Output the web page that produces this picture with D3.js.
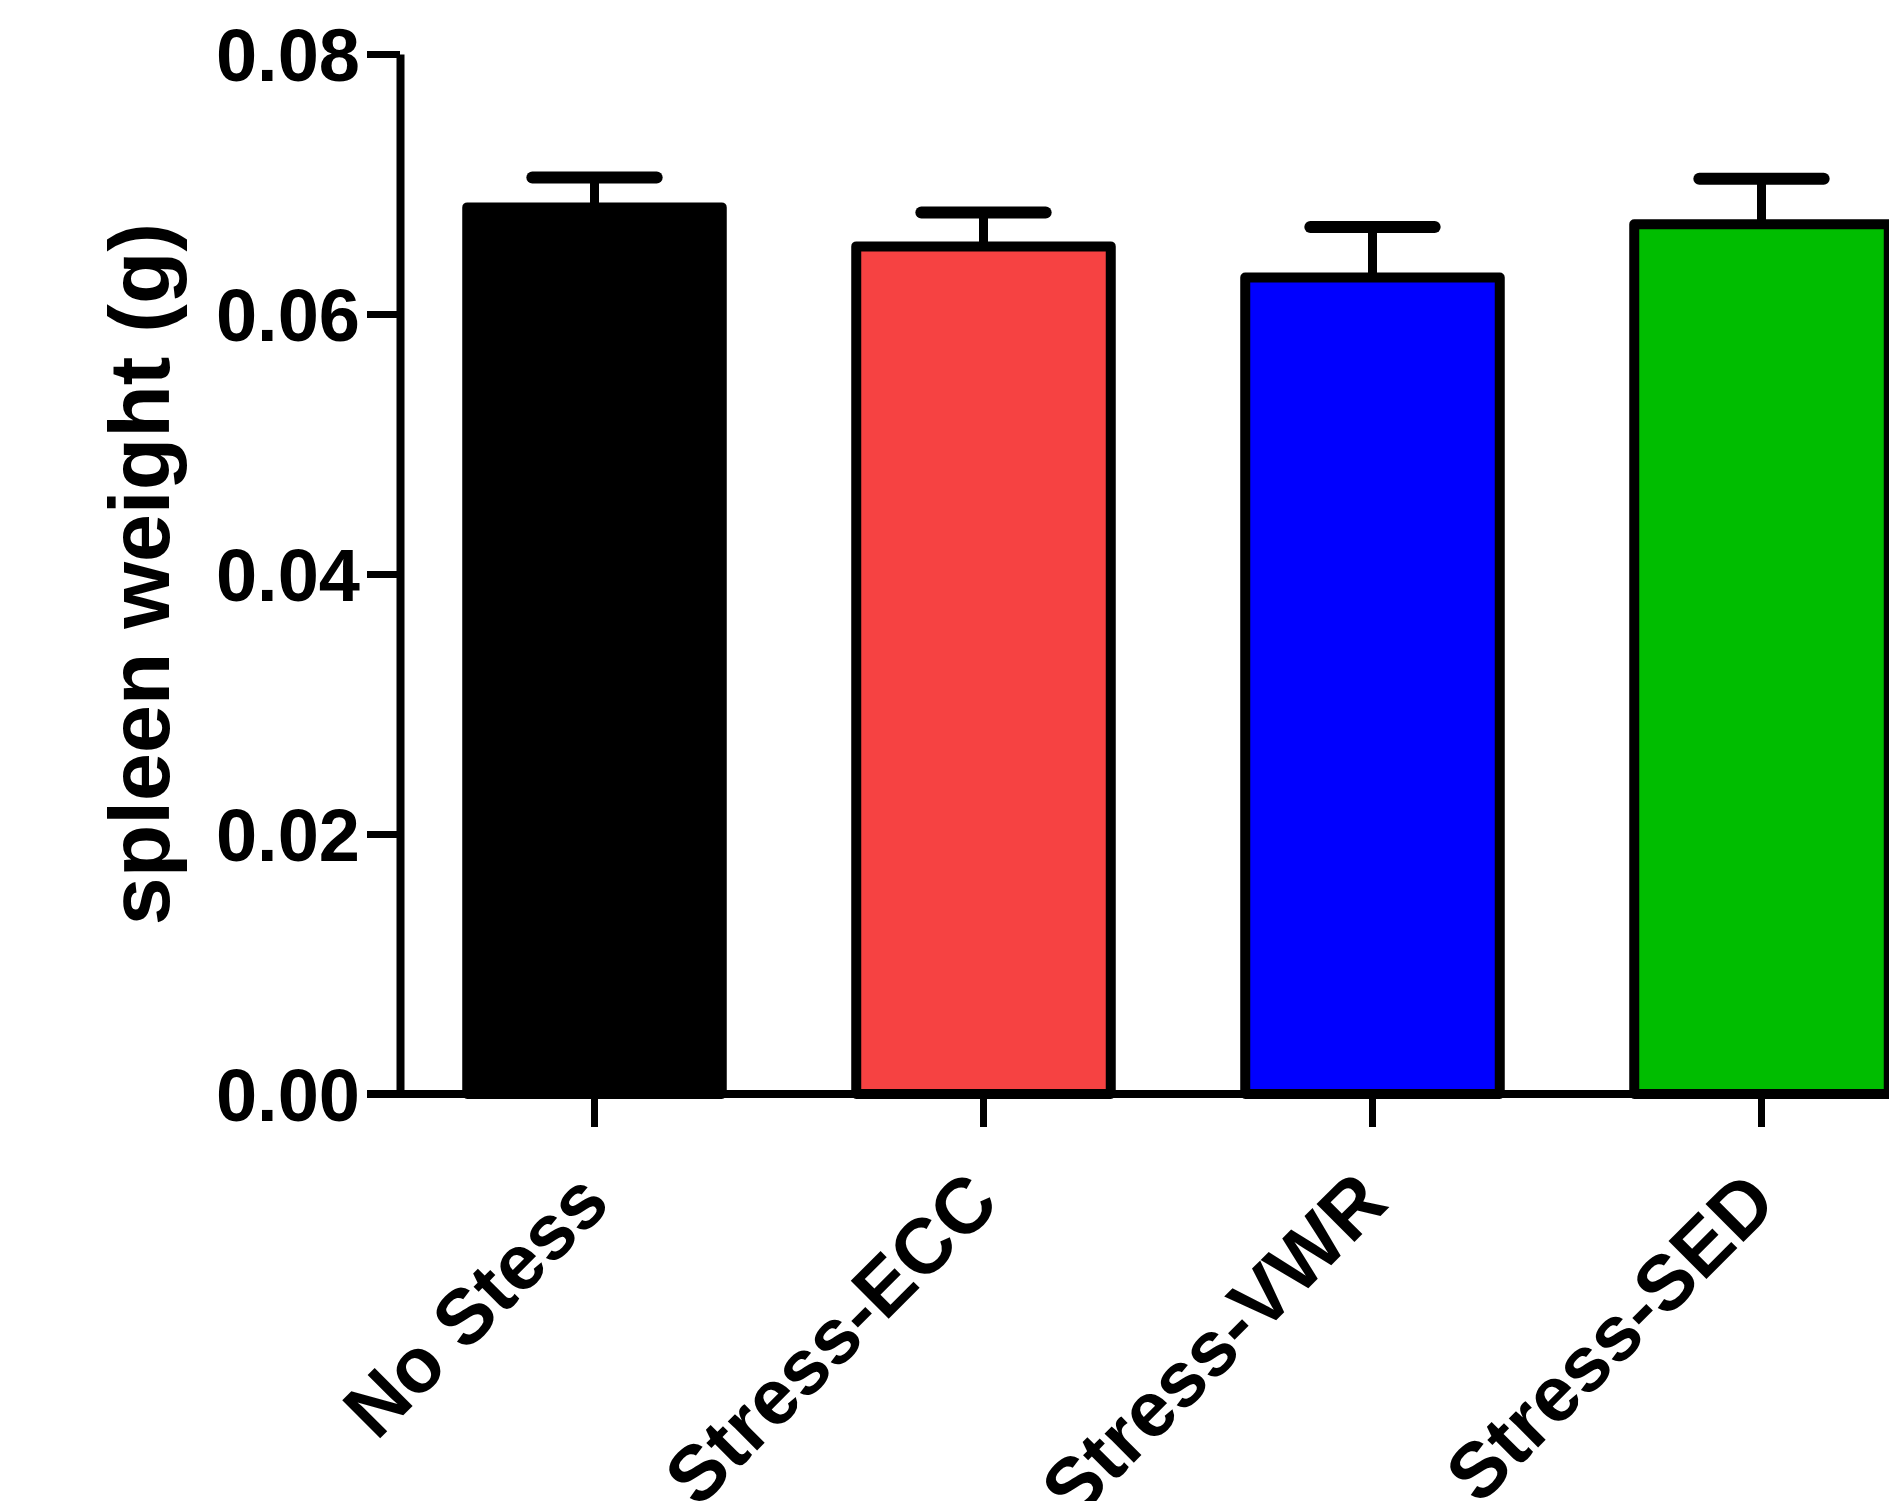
<!DOCTYPE html>
<html>
<head>
<meta charset="utf-8">
<script src="https://cdn.jsdelivr.net/npm/d3@7"></script>
<style>
    body { margin: 0; background: #fff; }
    text { font-family: "Liberation Sans", Arial, sans-serif; font-weight: bold; fill: #000; }
</style>
</head>
<body>
<div id="chart-container"></div>
<script>
// data
const groups = ["No Stess", "Stress-ECC", "Stress-VWR", "Stress-SED"];
const means = [0.0682, 0.0652, 0.0628, 0.0669];
const errTops = [0.0705, 0.0678, 0.0667, 0.0704];
const barColors = ["#000000", "#f64242", "#0000ff", "#00bd00"];
const yTicks = [0, 0.02, 0.04, 0.06, 0.08];

const svgWidth = 1889,
    svgHeight = 1501,
    axisX = 400,     // y axis line
    axisY = 1094,    // baseline
    topY = 54,
    tickLen = 33;

let svg = d3.select("#chart-container").append("svg")
    .attr("width", svgWidth)
    .attr("height", svgHeight);

svg.append("rect")
    .attr("width", svgWidth)
    .attr("height", svgHeight)
    .attr("fill", "#fff");

// scales - the plot runs past the right edge of the picture
let xScale = d3.scaleBand()
    .domain(groups)
    .range([axisX, axisX + 4 * 389])
    .paddingInner(0.32)
    .paddingOuter(0.16);
let yScale = d3.scaleLinear()
    .domain([0, 0.08])
    .range([axisY, topY]);

let rows = groups.map((g, i) => ({ group: g, mean: means[i], top: errTops[i], color: barColors[i] }));

// error bars (drawn first, bar covers the stem bottom)
let capHalf = xScale.bandwidth() * 0.235;
let errG = svg.append("g");
errG.selectAll("line.stem")
    .data(rows)
    .join("line")
    .attr("class", "stem")
    .attr("x1", d => xScale(d.group) + xScale.bandwidth() / 2)
    .attr("x2", d => xScale(d.group) + xScale.bandwidth() / 2)
    .attr("y1", d => yScale(d.mean))
    .attr("y2", d => yScale(d.top))
    .attr("stroke", "#000")
    .attr("stroke-width", 9);
errG.selectAll("line.cap")
    .data(rows)
    .join("line")
    .attr("class", "cap")
    .attr("x1", d => xScale(d.group) + xScale.bandwidth() / 2 - capHalf)
    .attr("x2", d => xScale(d.group) + xScale.bandwidth() / 2 + capHalf)
    .attr("y1", d => yScale(d.top))
    .attr("y2", d => yScale(d.top))
    .attr("stroke", "#000")
    .attr("stroke-width", 12)
    .attr("stroke-linecap", "round");

// bars
svg.append("g").selectAll("rect")
    .data(rows)
    .join("rect")
    .attr("x", d => xScale(d.group) + 5)
    .attr("y", d => yScale(d.mean))
    .attr("width", xScale.bandwidth() - 10)
    .attr("height", d => axisY - yScale(d.mean))
    .attr("fill", d => d.color)
    .attr("stroke", "#000")
    .attr("stroke-width", 10)
    .attr("stroke-linejoin", "round");

// y axis
let yAxis = svg.append("g")
    .attr("transform", `translate(${axisX}, 0)`)
    .call(d3.axisLeft(yScale)
        .tickValues(yTicks)
        .tickFormat(d3.format(".2f"))
        .tickSize(tickLen)
        .tickSizeOuter(0)
        .tickPadding(7));
yAxis.select(".domain").attr("stroke", "#000").attr("stroke-width", 8);
yAxis.selectAll(".tick line").attr("stroke", "#000").attr("stroke-width", 7);
yAxis.selectAll(".tick text")
    .attr("font-size", 74)
    .attr("dy", "0.36em")
    .attr("fill", "#000")
    .style("font-family", "'Liberation Sans', Arial, sans-serif");

// x axis
let xAxis = svg.append("g")
    .attr("transform", `translate(0, ${axisY})`)
    .call(d3.axisBottom(xScale)
        .tickSize(tickLen)
        .tickSizeOuter(0));
xAxis.select(".domain").remove();
xAxis.append("line")
    .attr("x1", axisX - tickLen)
    .attr("x2", svgWidth)
    .attr("stroke", "#000")
    .attr("stroke-width", 8);
xAxis.selectAll(".tick line").attr("stroke", "#000").attr("stroke-width", 7);
xAxis.selectAll(".tick text")
    .attr("font-size", 78)
    .attr("fill", "#000")
    .attr("text-anchor", "end")
    .attr("y", 0)
    .attr("dy", 0)
    .attr("transform", "translate(18, 112) rotate(-45)")
    .style("font-family", "'Liberation Sans', Arial, sans-serif");

// axis title
svg.append("text")
    .attr("text-anchor", "middle")
    .attr("transform", `translate(169, ${(topY + axisY) / 2}) rotate(-90)`)
    .attr("font-size", 86)
    .text("spleen weight (g)");
</script>
</body>
</html>
